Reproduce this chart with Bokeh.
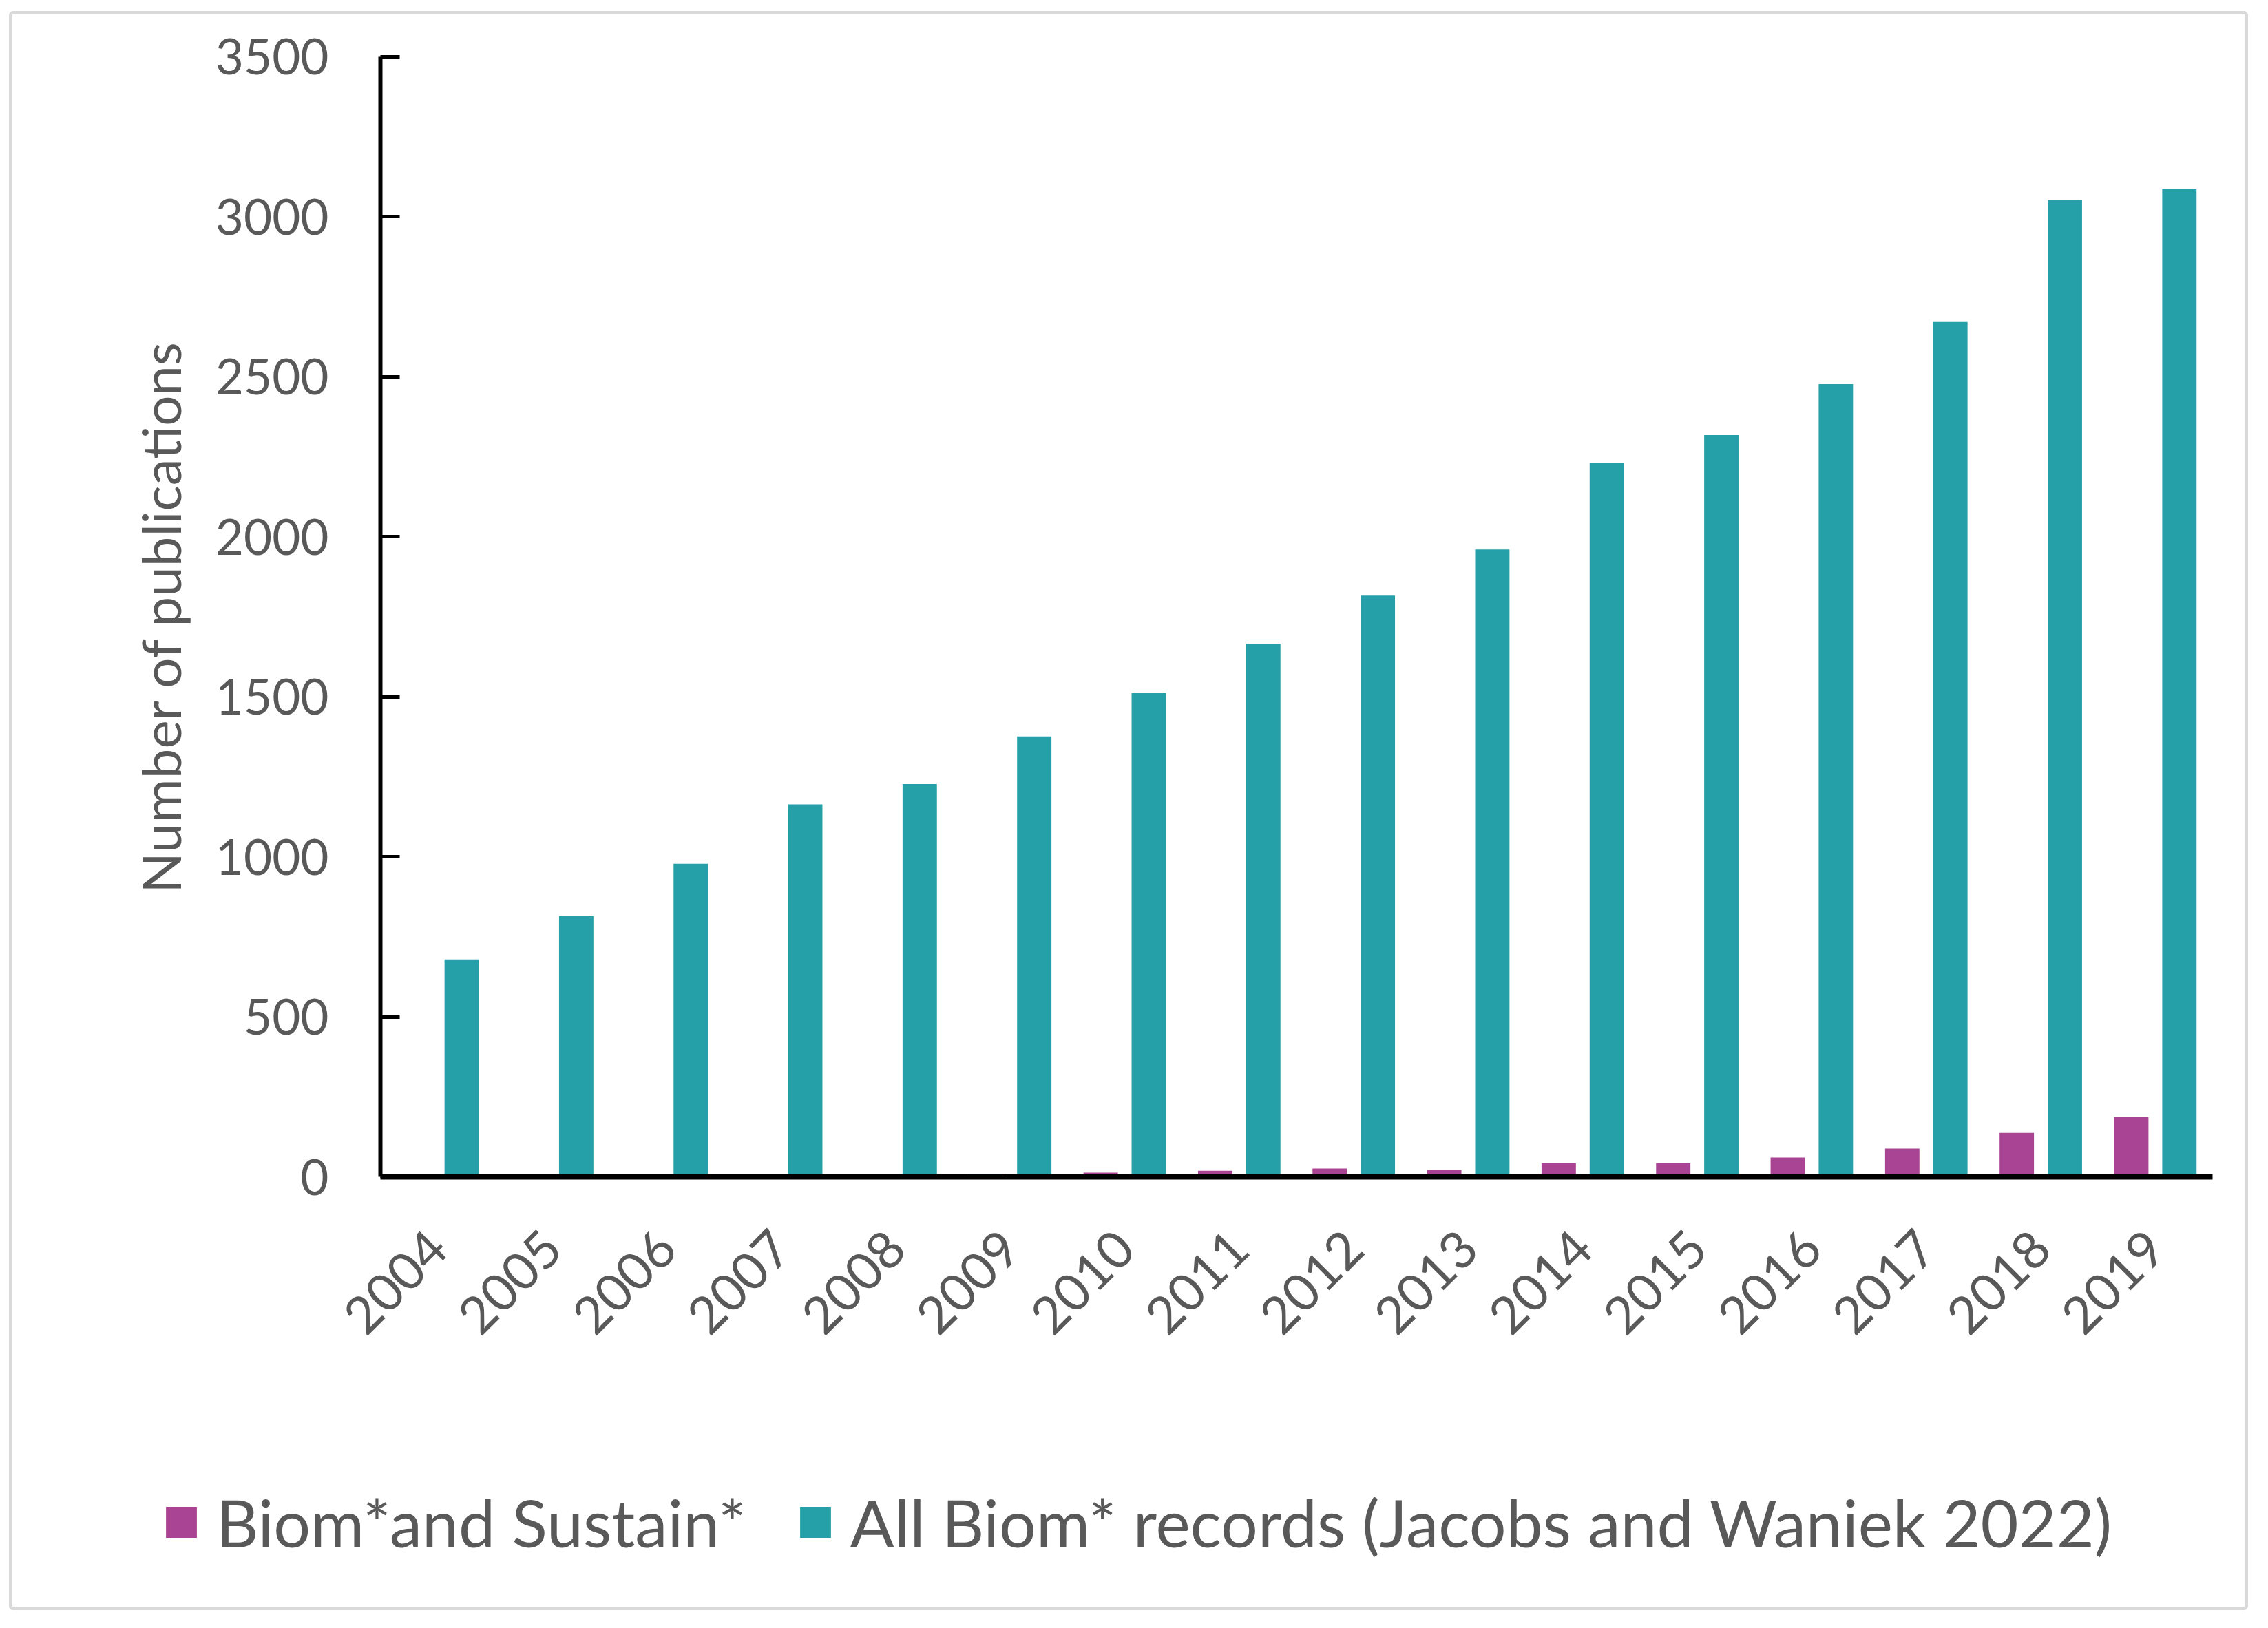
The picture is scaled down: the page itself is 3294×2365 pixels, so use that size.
import math
from bokeh.plotting import figure
from bokeh.models import ColumnDataSource, Range1d, Legend, LegendItem, FixedTicker
from bokeh.transform import dodge
from bokeh.embed import file_html
from bokeh.resources import INLINE

years = [str(y) for y in range(2004, 2020)]
sustain = [0, 0, 0, 0, 0, 9, 13, 19, 26, 21, 43, 43, 60, 88, 137, 186]
all_biom = [679, 815, 978, 1164, 1227, 1376, 1512, 1666, 1816, 1960, 2232, 2318, 2477, 2671, 3052, 3088]
y_ticks = [0, 500, 1000, 1500, 2000, 2500, 3000, 3500]
label_sustain = "Biom*and Sustain*"
label_all = "All Biom* records (Jacobs and Waniek 2022)"
y_title = "Number of publications"

MAGENTA = "#a94394"
TEAL = "#26a0a8"
TXT = "#595959"
FONT = "Lato"

idx = list(range(len(years)))
source = ColumnDataSource(dict(idx=idx, sustain=sustain, all_biom=all_biom))

# canvas fully used by the frame; axes are pinned with fixed_location
W, H = 3252, 2323
p = figure(x_range=Range1d(-3.7108, 15.8425), y_range=Range1d(-1366.0, 3631.2),
           width=W, height=H, output_backend="svg", toolbar_location=None,
           min_border_left=0, min_border_right=0, min_border_top=0, min_border_bottom=0)
p.styles = {"border": "5px solid #d9d9d9", "border-radius": "6px",
            "margin-left": "13px", "margin-top": "16px"}
p.outline_line_color = None
p.xgrid.grid_line_color = None
p.ygrid.grid_line_color = None
p.background_fill_color = "white"
p.border_fill_color = "white"

r1 = p.vbar(x=dodge('idx', -0.21), top='sustain', width=0.30,
            source=source, fill_color=MAGENTA, line_color=None)
r2 = p.vbar(x=dodge('idx', 0.21), top='all_biom', width=0.30,
            source=source, fill_color=TEAL, line_color=None)

# y axis
ya = p.yaxis[0]
ya.fixed_location = -0.5
ya.bounds = (y_ticks[0], y_ticks[-1])
ya.ticker = FixedTicker(ticks=y_ticks)
ya.minor_tick_line_color = None
ya.major_tick_in = 28
ya.major_tick_out = 0
ya.major_tick_line_width = 5
ya.major_tick_line_color = "black"
ya.axis_line_width = 6
ya.axis_line_color = "black"
ya.major_label_text_font = FONT
ya.major_label_text_font_size = "71px"
ya.major_label_text_color = TXT
ya.major_label_standoff = 75
ya.axis_label = y_title
ya.axis_label_text_font = FONT
ya.axis_label_text_font_size = "78px"
ya.axis_label_text_font_style = "normal"
ya.axis_label_text_color = TXT
ya.axis_label_standoff = 30

# x axis
xa = p.xaxis[0]
xa.fixed_location = 0
xa.bounds = (-0.5, len(years) - 0.5)
xa.ticker = FixedTicker(ticks=idx)
xa.major_label_overrides = {i: y for i, y in zip(idx, years)}
xa.major_tick_line_color = None
xa.minor_tick_line_color = None
xa.axis_line_width = 8
xa.axis_line_color = "black"
xa.major_label_orientation = math.pi / 4
xa.major_label_text_font = FONT
xa.major_label_text_font_size = "75px"
xa.major_label_text_color = TXT
xa.major_label_standoff = 85

legend = Legend(items=[LegendItem(label=label_sustain, renderers=[r1]),
                       LegendItem(label=label_all, renderers=[r2])],
                orientation="horizontal", location=(217, 76))
legend.label_text_font = FONT
legend.label_text_font_size = "95px"
legend.label_text_color = TXT
legend.glyph_width = 56
legend.glyph_height = 56
legend.label_standoff = 23
legend.spacing = 72
legend.padding = 0
legend.margin = 0
legend.border_line_color = None
legend.background_fill_alpha = 0
p.add_layout(legend, "center")

open("out.html", "w").write(file_html(p, INLINE))
